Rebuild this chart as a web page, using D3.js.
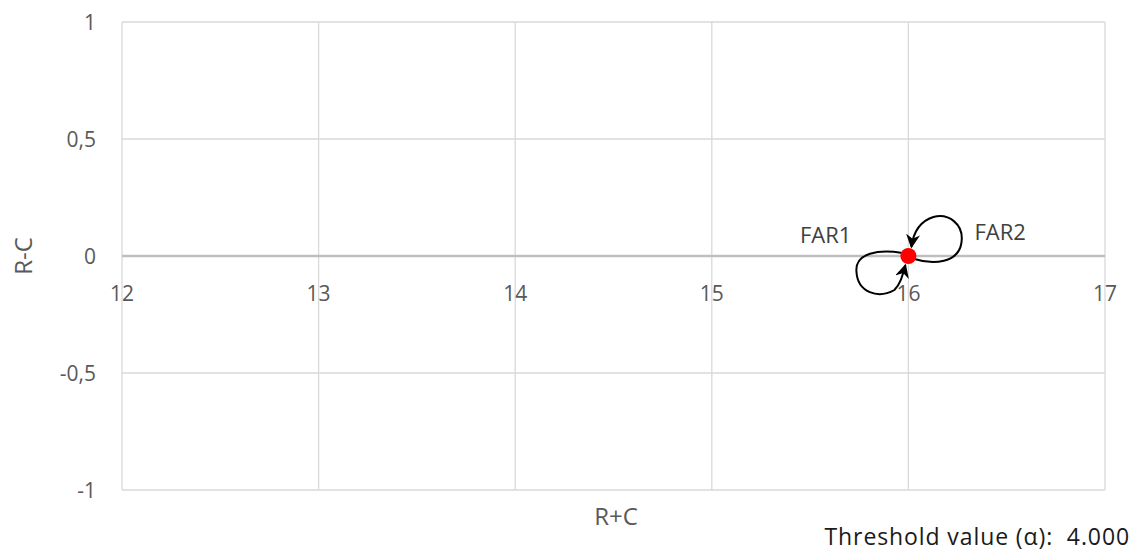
<!DOCTYPE html>
<html><head><meta charset="utf-8">
<script src="https://cdn.jsdelivr.net/npm/d3@7"></script>
<style>body{margin:0;background:#fff}svg{display:block}</style>
</head><body><svg id="c" width="1138" height="553"></svg>
<script>
const xTicks = [12, 13, 14, 15, 16, 17];
const yTicks = [-1, -0.5, 0, 0.5, 1];
const yTickLabels = ["-1", "-0,5", "0", "0,5", "1"];
const pointsRC = [16];
const pointsRminusC = [0];
const pointLabels = ["FAR1", "FAR2"];
const xTitle = "R+C", yTitle = "R-C";
const threshold = "Threshold value (\u03B1):  4.000";

const svg = d3.select("#c");
const font = "'Open Sans', 'Noto Sans', sans-serif";
const x = d3.scaleLinear().domain([12, 17]).range([122, 1105]);
const y = d3.scaleLinear().domain([-1, 1]).range([490, 22]);

// grid
svg.append("g").selectAll("line").data(xTicks).join("line")
  .attr("x1", d => x(d)).attr("x2", d => x(d)).attr("y1", y(1)).attr("y2", y(-1))
  .attr("stroke", "#d9d9d9").attr("stroke-width", 1.3);
svg.append("g").selectAll("line").data(yTicks.filter(d => d !== 0)).join("line")
  .attr("x1", x(12)).attr("x2", x(17)).attr("y1", d => y(d)).attr("y2", d => y(d))
  .attr("stroke", "#d9d9d9").attr("stroke-width", 1.3);
// zero axis
svg.append("line").attr("x1", x(12)).attr("x2", x(17)).attr("y1", y(0)).attr("y2", y(0))
  .attr("stroke", "#bfbfbf").attr("stroke-width", 2.5);

// y labels
svg.append("g").selectAll("text").data(yTicks).join("text")
  .attr("x", 96).attr("y", d => y(d)).attr("dy", "0.36em").attr("text-anchor", "end")
  .attr("font-family", font).attr("font-size", 21).attr("fill", "#595959")
  .text((d, i) => yTickLabels[i]);
// x labels
svg.append("g").selectAll("text").data(xTicks).join("text")
  .attr("x", d => x(d)).attr("y", y(0) + 45).attr("text-anchor", "middle")
  .attr("font-family", font).attr("font-size", 21).attr("fill", "#595959")
  .text(d => d);

// axis titles
svg.append("text").attr("transform", `translate(32,${y(0)}) rotate(-90)`)
  .attr("text-anchor", "middle").attr("font-family", font).attr("font-size", 24).attr("fill", "#595959").text(yTitle);
svg.append("text").attr("x", 616).attr("y", 525).attr("text-anchor", "middle")
  .attr("font-family", font).attr("font-size", 24).attr("fill", "#595959").text(xTitle);
svg.append("text").attr("x", 1130).attr("y", 545).attr("text-anchor", "end")
  .attr("font-family", font).attr("font-size", 23).attr("letter-spacing", 0.9).attr("fill", "#1a1a1a")
  .style("white-space", "pre").text(threshold);

// loops
const px = x(pointsRC[0]), py = y(pointsRminusC[0]);
svg.append("defs").append("marker").attr("id", "arr").attr("viewBox", "0 0 10 10")
  .attr("refX", 9).attr("refY", 5).attr("markerWidth", 7).attr("markerHeight", 7)
  .attr("markerUnits", "userSpaceOnUse").attr("orient", "auto")
  .append("path").attr("d", "M0,0 L10,5 L0,10 L3,5 Z").attr("fill", "#000");
svg.select("marker").attr("markerWidth", 14).attr("markerHeight", 14);
svg.append("path")
  .attr("d", `M${px-6},${py-3} C${px-30},${py-7} ${px-53},${py-3} ${px-52},${py+15} C${px-51},${py+37} ${px-30},${py+43} ${px-14},${py+34} C${px-8},${py+28} ${px-6},${py+20} ${px-3},${py+9}`)
  .attr("fill", "none").attr("stroke", "#000").attr("stroke-width", 2).attr("marker-end", "url(#arr)");
svg.append("path")
  .attr("d", `M${px+6},${py+3} C${px+25},${py+9} ${px+50},${py+7} ${px+53},${py-13} C${px+56},${py-32} ${px+40},${py-43} ${px+25},${py-39} C${px+12},${py-35} ${px+5},${py-24} ${px+3},${py-9}`)
  .attr("fill", "none").attr("stroke", "#000").attr("stroke-width", 2).attr("marker-end", "url(#arr)");

svg.append("circle").attr("cx", px).attr("cy", py).attr("r", 8).attr("fill", "#ff0000");

svg.append("text").attr("x", px - 57).attr("y", py - 13).attr("text-anchor", "end")
  .attr("font-family", font).attr("font-size", 22).attr("fill", "#404040").text(pointLabels[0]);
svg.append("text").attr("x", px + 66).attr("y", py - 16).attr("text-anchor", "start")
  .attr("font-family", font).attr("font-size", 22).attr("fill", "#404040").text(pointLabels[1]);
</script></body></html>
